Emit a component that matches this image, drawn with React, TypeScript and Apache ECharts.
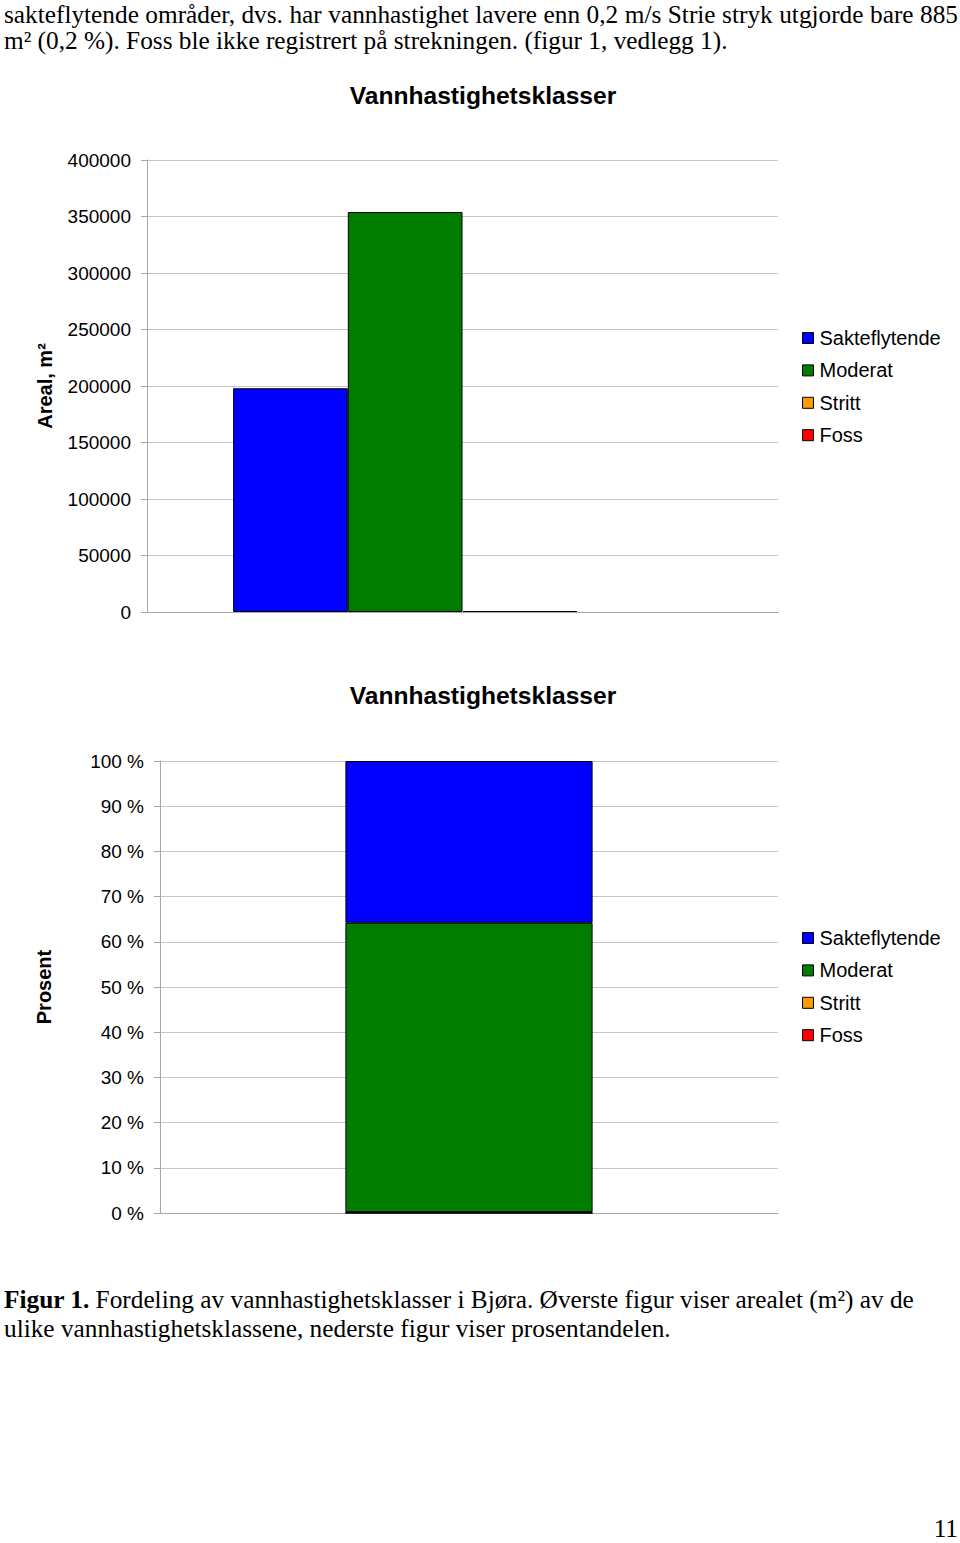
import React, { useEffect, useRef } from "react";
import * as echarts from "echarts";

// ---- data ----
const chartTitle = "Vannhastighetsklasser";
const categories = [""];
const seriesNames = ["Sakteflytende", "Moderat", "Stritt", "Foss"];
const seriesColors = ["#0000FF", "#007D00", "#FF9900", "#FF0000"];
const arealValues = [198000, 354000, 885, 0];
const prosentValues = [35.8, 64.0, 0.2, 0];
// stacking order of the percent chart, bottom to top
const stackOrder = [3, 2, 1, 0];
const arealAxisName = "Areal, m²";
const prosentAxisName = "Prosent";
const arealTicks = [0, 400000, 50000];
const prosentTicks = [0, 100, 10];

const introLine1 =
  "sakteflytende områder, dvs. har vannhastighet lavere enn 0,2 m/s Strie stryk utgjorde bare 885";
const introLine2 = "m² (0,2 %). Foss ble ikke registrert på strekningen. (figur 1, vedlegg 1).";
const captionBold = "Figur 1.";
const captionLine1 = " Fordeling av vannhastighetsklasser i Bjøra. Øverste figur viser arealet (m²) av de";
const captionLine2 = "ulike vannhastighetsklassene, nederste figur viser prosentandelen.";
const pageNumber = "11";

const SANS = "'Liberation Sans', Arial, Helvetica, sans-serif";
const SERIF = "'Liberation Serif', 'Times New Roman', serif";

export default function App() {
  const ref = useRef<HTMLDivElement>(null);

  useEffect(() => {
    if (!ref.current) return;
    const chart = echarts.init(ref.current, null, { renderer: "svg" });

    const gridColor = "#c6c6c6";
    const axisColor = "#a8a8a8";

    const yAxisCommon = (
      gridIndex: number,
      name: string,
      ticks: number[],
      fmt: (v: number) => string,
      nameGap: number
    ) => ({
      type: "value",
      gridIndex,
      min: ticks[0],
      max: ticks[1],
      interval: ticks[2],
      name,
      nameLocation: "middle",
      nameRotate: 90,
      nameGap,
      nameTextStyle: { fontFamily: SANS, fontSize: 20, fontWeight: "bold", color: "#000" },
      axisLine: { show: true, lineStyle: { color: axisColor, width: 1 } },
      axisTick: { show: true, length: 6, lineStyle: { color: axisColor } },
      axisLabel: { fontFamily: SANS, fontSize: 19, color: "#000", margin: 16, formatter: fmt },
      splitLine: { show: true, lineStyle: { color: gridColor, width: 1 } },
    });

    const xAxisCommon = (gridIndex: number) => ({
      type: "category",
      gridIndex,
      data: categories,
      axisLine: { show: true, lineStyle: { color: axisColor } },
      axisTick: { show: false },
      axisLabel: { show: false },
    });

    const legendCommon = (top: number) => ({
      data: seriesNames,
      orient: "vertical",
      left: 802,
      top,
      padding: 0,
      itemWidth: 11,
      itemHeight: 11,
      itemGap: 12.4,
      icon: "rect",
      itemStyle: { borderColor: "#000", borderWidth: 1 },
      textStyle: { fontFamily: SANS, fontSize: 20, color: "#000", lineHeight: 20, padding: [0, 0, 0, 1] },
      selectedMode: false,
    });

    const topSeries = seriesNames.map((name, i) => ({
      name,
      type: "bar",
      xAxisIndex: 0,
      yAxisIndex: 0,
      data: [arealValues[i]],
      barGap: "0%",
      barCategoryGap: "27.3%",
      itemStyle: {
        color: seriesColors[i],
        borderColor: "#000",
        borderWidth: arealValues[i] === 0 ? 0 : 1,
      },
    }));

    const bottomSeries = stackOrder.map((i) => ({
      name: seriesNames[i],
      type: "bar",
      xAxisIndex: 1,
      yAxisIndex: 1,
      stack: "prosent",
      data: [prosentValues[i]],
      barWidth: "40%",
      itemStyle: {
        color: seriesColors[i],
        borderColor: "#000",
        borderWidth: 1,
      },
    }));

    const titleStyle = { fontFamily: SANS, fontSize: 24.6, fontWeight: "bold", color: "#000" };

    chart.setOption({
      animation: false,
      backgroundColor: "#ffffff",
      title: [
        { text: chartTitle, left: 483, top: 83, padding: 0, textAlign: "center", textStyle: titleStyle },
        { text: chartTitle, left: 483, top: 683, padding: 0, textAlign: "center", textStyle: titleStyle },
      ],
      legend: [legendCommon(328), legendCommon(928)],
      grid: [
        { left: 147, top: 160, width: 631, height: 452, containLabel: false },
        { left: 160, top: 761, width: 618, height: 452, containLabel: false },
      ],
      xAxis: [xAxisCommon(0), xAxisCommon(1)],
      yAxis: [
        yAxisCommon(0, arealAxisName, arealTicks, (v: number) => String(v), 92),
        yAxisCommon(1, prosentAxisName, prosentTicks, (v: number) => v + " %", 106),
      ],
      series: [...topSeries, ...bottomSeries],
    });

    return () => chart.dispose();
  }, []);

  const textStyle: React.CSSProperties = {
    position: "absolute",
    fontFamily: SERIF,
    fontSize: 25.3,
    lineHeight: "28px",
    color: "#000",
    whiteSpace: "nowrap",
  };

  return (
    <div style={{ position: "absolute", left: 0, top: 0, width: 960, height: 1543, background: "#fff", overflow: "hidden" }}>
      <div ref={ref} style={{ position: "absolute", left: 0, top: 0, width: 960, height: 1543 }} />
      <div
        style={{
          ...textStyle,
          left: 4,
          top: 0,
          width: 954,
          whiteSpace: "normal",
          textAlign: "justify",
          textAlignLast: "justify",
        }}
      >
        {introLine1}
      </div>
      <div style={{ ...textStyle, left: 4, top: 26 }}>{introLine2}</div>
      <div style={{ ...textStyle, left: 4, top: 1285 }}>
        <b>{captionBold}</b>
        {captionLine1}
      </div>
      <div style={{ ...textStyle, left: 4, top: 1314 }}>{captionLine2}</div>
      <div style={{ ...textStyle, right: 2, top: 1514 }}>{pageNumber}</div>
    </div>
  );
}
